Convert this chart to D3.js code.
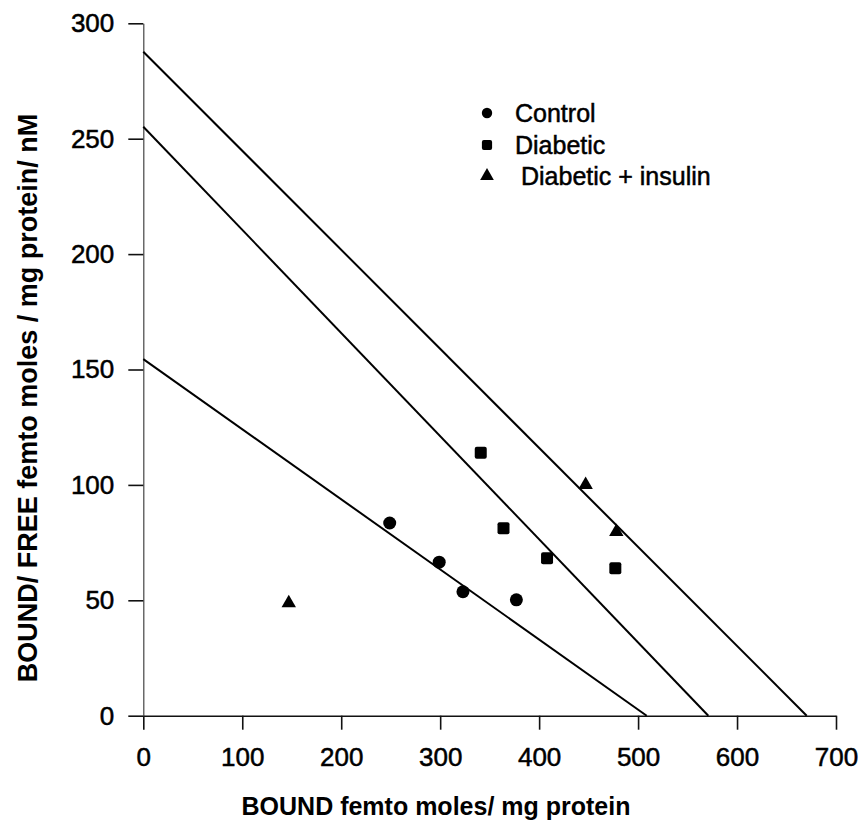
<!DOCTYPE html>
<html>
<head>
<meta charset="utf-8">
<script src="https://cdn.jsdelivr.net/npm/d3@7/dist/d3.min.js"></script>
<style>
  html, body { margin: 0; padding: 0; background: #fff; }
  svg { display: block; font-family: "Liberation Sans", Arial, Helvetica, sans-serif; }
</style>
</head>
<body>
<svg id="chart" width="866" height="838"></svg>
<script>
// Scatchard plot: bound vs bound/free for three groups
const groups = ["Control", "Diabetic", "Diabetic + insulin"];
const shapes = ["circle", "square", "triangle"];

const controlBound = [249, 299, 323, 377];
const controlRatio = [83.5, 66.5, 53.7, 50.2];

const diabeticBound = [341, 364, 408, 477];
const diabeticRatio = [113.9, 81.2, 68.2, 63.9];

const insulinBound = [147, 447, 478];
const insulinRatio = [48.8, 100, 79.7];

// fitted regression lines: y-intercept (ratio) and x-intercept (bound)
const fitRatioIntercept = [154.5, 255.2, 287.7];
const fitBoundIntercept = [508.7, 571, 670.4];

const xTicks = [0, 100, 200, 300, 400, 500, 600, 700];
const yTicks = [0, 50, 100, 150, 200, 250, 300];

const xTitle = "BOUND femto moles/ mg protein";
const yTitle = "BOUND/ FREE femto moles / mg protein/ nM";

const svg = d3.select("#chart");

const x = d3.scaleLinear().domain([0, 700]).range([143.3, 836]);
const y = d3.scaleLinear().domain([0, 300]).range([715.7, 23.3]);

const series = [
  { name: groups[0], shape: shapes[0], bound: controlBound, ratio: controlRatio },
  { name: groups[1], shape: shapes[1], bound: diabeticBound, ratio: diabeticRatio },
  { name: groups[2], shape: shapes[2], bound: insulinBound, ratio: insulinRatio }
];

// axes
const xAxis = d3.axisBottom(x).tickValues(xTicks).tickSize(14).tickSizeOuter(0).tickPadding(18);
const yAxis = d3.axisLeft(y).tickValues(yTicks).tickSize(15).tickSizeOuter(0).tickPadding(14);

const gx = svg.append("g").attr("transform", `translate(0,${y(0)})`).call(xAxis);
const gy = svg.append("g").attr("transform", `translate(${x(0)},0)`).call(yAxis);

[gx, gy].forEach(g => {
  g.selectAll("path.domain").attr("stroke", "#111").attr("stroke-width", 1.6);
  g.selectAll(".tick line").attr("stroke", "#111").attr("stroke-width", 1.6);
  g.selectAll(".tick text")
    .attr("fill", "#000")
    .attr("stroke", "#000").attr("stroke-width", 0.5)
    .style("font-size", "26px")
    .style("font-family", "'Liberation Sans', Arial, sans-serif");
});
gy.select("path.domain").attr("stroke", "#444").attr("stroke-width", 1.2);

// regression lines
const plot = svg.append("g");
fitRatioIntercept.forEach((b, i) => {
  plot.append("line")
    .attr("x1", x(0)).attr("y1", y(b))
    .attr("x2", x(fitBoundIntercept[i])).attr("y2", y(0))
    .attr("stroke", "#000").attr("stroke-width", 2);
});

// marker drawing
function drawMarker(g, shape, cx, cy, scale) {
  if (shape === "circle") {
    g.append("circle").attr("cx", cx).attr("cy", cy).attr("r", 6.5 * scale).attr("fill", "#000");
  } else if (shape === "square") {
    const s = 12 * scale;
    g.append("rect").attr("x", cx - s / 2).attr("y", cy - s / 2)
      .attr("width", s).attr("height", s).attr("rx", 2).attr("fill", "#000");
  } else {
    g.append("path")
      .attr("d", d3.symbol().type(d3.symbolTriangle).size(90 * scale * scale)())
      .attr("transform", `translate(${cx},${cy})`)
      .attr("fill", "#000");
  }
}

series.forEach(s => {
  s.bound.forEach((b, i) => drawMarker(plot, s.shape, x(b), y(s.ratio[i]), 1));
});

// legend
const legend = svg.append("g");
const legendY = [113, 145, 176];
const legendTextX = [515, 515, 521];
const legendScale = [0.8, 0.85, 0.95];
series.forEach((s, i) => {
  drawMarker(legend, s.shape, 487, legendY[i], legendScale[i]);
  legend.append("text")
    .attr("x", legendTextX[i]).attr("y", legendY[i] + 9)
    .style("font-size", "25px")
    .attr("fill", "#000")
    .attr("stroke", "#000").attr("stroke-width", 0.5)
    .text(s.name);
});

// axis titles
svg.append("text")
  .attr("x", 436).attr("y", 815)
  .attr("text-anchor", "middle")
  .style("font-size", "25px").style("font-weight", "bold")
  .attr("fill", "#000")
  .text(xTitle);

svg.append("text")
  .attr("transform", "translate(37,398) rotate(-90)")
  .attr("text-anchor", "middle")
  .style("font-size", "27px").style("font-weight", "bold")
  .attr("fill", "#000")
  .text(yTitle);
</script>
</body>
</html>
